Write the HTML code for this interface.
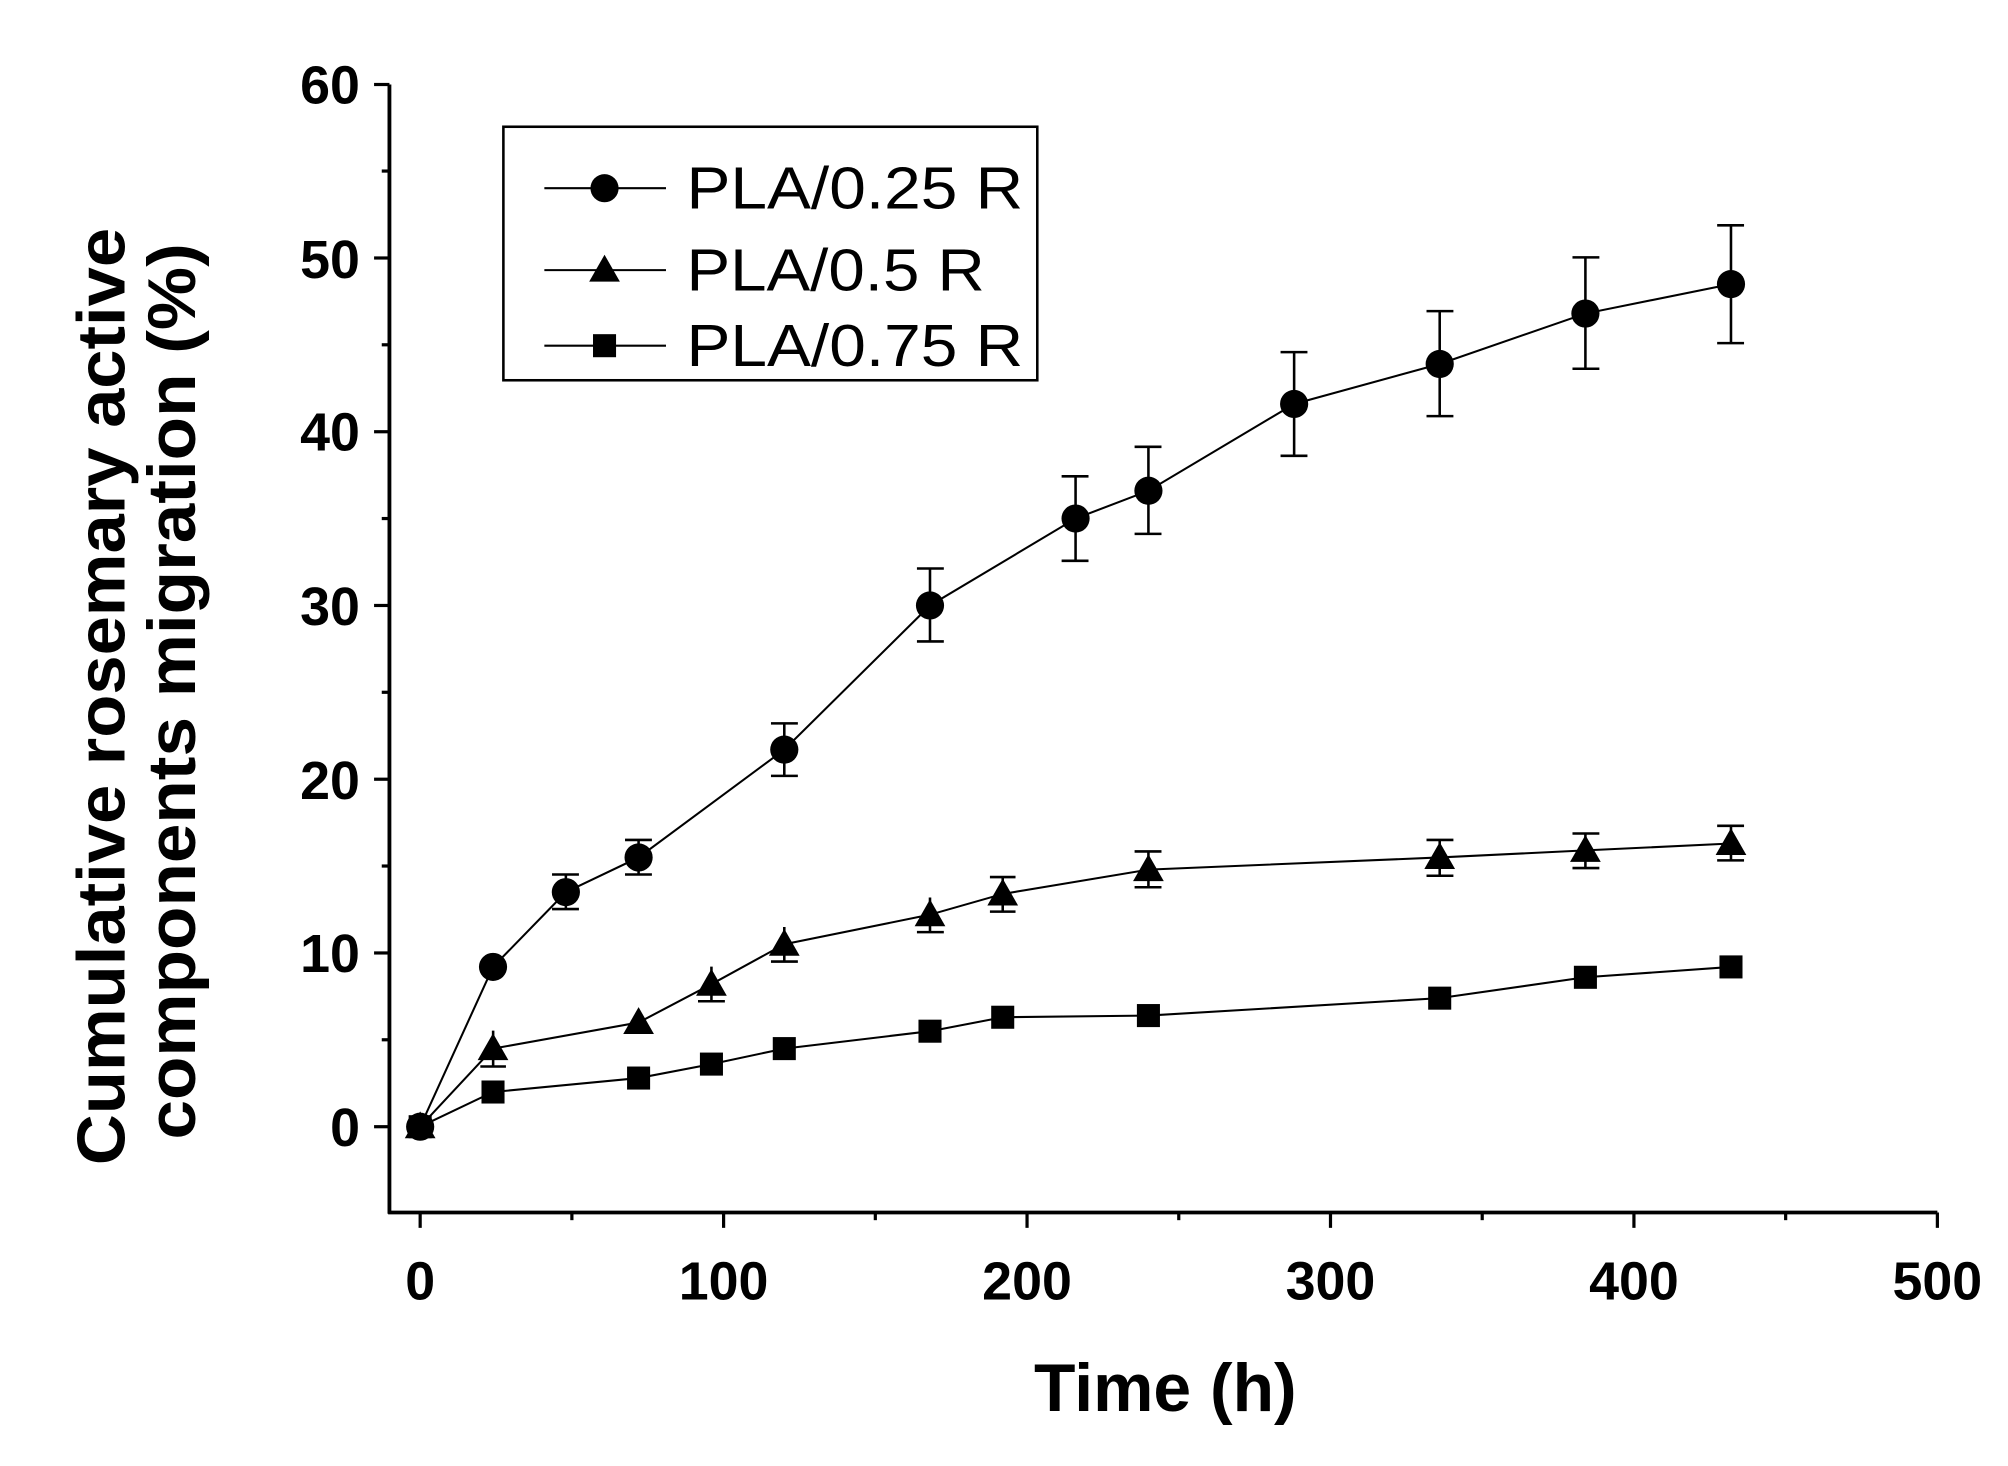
<!DOCTYPE html>
<html><head><meta charset="utf-8"><style>
html,body{margin:0;padding:0;background:#fff;}
svg{display:block;}
text{font-family:"Liberation Sans",Arial,sans-serif;fill:#000;}
</style></head><body>
<svg width="2008" height="1466" viewBox="0 0 1568 1145" xmlns="http://www.w3.org/2000/svg">
<defs>
<path id="tri" d="M0,-12 L12,9 L-12,9 Z"/>
</defs>
<g stroke="#000" stroke-width="3" fill="none">
<line x1="304" y1="66" x2="304" y2="948"/>
<line x1="303" y1="947" x2="1513" y2="947"/>
</g>
<g stroke="#000" stroke-width="2.5">
<line x1="292" y1="880" x2="304" y2="880"/><line x1="292" y1="744.3" x2="304" y2="744.3"/><line x1="292" y1="608.6" x2="304" y2="608.6"/><line x1="292" y1="472.9" x2="304" y2="472.9"/><line x1="292" y1="337.2" x2="304" y2="337.2"/><line x1="292" y1="201.5" x2="304" y2="201.5"/><line x1="292" y1="66" x2="304" y2="66"/>
<line x1="298" y1="812.1" x2="304" y2="812.1"/><line x1="298" y1="676.4" x2="304" y2="676.4"/><line x1="298" y1="540.7" x2="304" y2="540.7"/><line x1="298" y1="405" x2="304" y2="405"/><line x1="298" y1="269.3" x2="304" y2="269.3"/><line x1="298" y1="133.6" x2="304" y2="133.6"/>
<line x1="328" y1="947" x2="328" y2="959"/><line x1="565" y1="947" x2="565" y2="959"/><line x1="802" y1="947" x2="802" y2="959"/><line x1="1039" y1="947" x2="1039" y2="959"/><line x1="1276" y1="947" x2="1276" y2="959"/><line x1="1513" y1="947" x2="1513" y2="959"/>
<line x1="446.5" y1="947" x2="446.5" y2="953"/><line x1="683.5" y1="947" x2="683.5" y2="953"/><line x1="920.5" y1="947" x2="920.5" y2="953"/><line x1="1157.5" y1="947" x2="1157.5" y2="953"/><line x1="1394.5" y1="947" x2="1394.5" y2="953"/>
</g>
<g font-size="42" font-weight="bold" text-anchor="end">
<text x="281" y="895">0</text><text x="281" y="759">10</text><text x="281" y="624">20</text><text x="281" y="488">30</text><text x="281" y="352">40</text><text x="281" y="217">50</text><text x="281" y="81">60</text>
</g>
<g font-size="42" font-weight="bold" text-anchor="middle">
<text x="328" y="1015">0</text><text x="565" y="1015">100</text><text x="802" y="1015">200</text><text x="1039" y="1015">300</text><text x="1276" y="1015">400</text><text x="1513" y="1015">500</text>
</g>
<text x="910" y="1102" font-size="53" font-weight="bold" text-anchor="middle">Time (h)</text>
<g font-size="53" font-weight="bold" text-anchor="middle">
<text transform="translate(97,544) rotate(-90)" textLength="732" lengthAdjust="spacingAndGlyphs">Cumulative rosemary active</text>
<text transform="translate(152,540) rotate(-90)" textLength="700" lengthAdjust="spacingAndGlyphs">components migration (%)</text>
</g>
<!-- error bars -->
<g stroke="#000" stroke-width="2">
<path d="M384.9,748 V762 M441.8,683 V710 M498.6,656 V683 M612.4,565 V606 M726.2,444 V501 M839.9,372 V438 M896.8,349 V417 M1010.6,275 V356 M1124.3,243 V325 M1238.1,201 V288 M1351.8,176 V268"/>
<path d="M1000,275 H1021 M1000,356 H1021 M1114,243 H1135 M1114,325 H1135 M1228,201 H1249 M1228,288 H1249 M1341,176 H1362 M1341,268 H1362 M829,372 H850 M829,438 H850 M886,349 H907 M886,417 H907 M716,444 H737 M716,501 H737 M602,565 H623 M602,606 H623 M488,656 H509 M488,683 H509 M431,683 H452 M431,710 H452"/>
<path d="M385,805 V833 M555.5,755 V782 M612.4,724 V751 M726.2,701 V728 M783,685 V712 M896.8,665 V693 M1124.3,656 V684 M1238.1,651 V678 M1351.8,645 V672"/>
<path d="M375,833 H395 M545,782 H566 M602,751 H623 M716,728 H737 M773,685 H793 M773,712 H793 M886,665 H907 M886,693 H907 M1114,656 H1135 M1114,684 H1135 M1228,651 H1249 M1228,678 H1249 M1341,645 H1362 M1341,672 H1362"/>
</g>
<g stroke="#000" stroke-width="1.6" fill="none">
<polyline points="328,880 384.9,755.2 441.8,696.8 498.6,669.7 612.4,585.5 726.2,472.9 839.9,405 896.8,383.3 1010.6,315.5 1124.3,284.3 1238.1,244.9 1351.8,221.9"/>
<polyline points="328,880 384.9,819 498.6,798.6 555.5,768.7 612.4,737.5 726.2,714.4 783,698.2 896.8,679.2 1124.3,669.7 1238.1,664.2 1351.8,658.8"/>
<polyline points="328,880 384.9,852.9 498.6,842 555.5,831.1 612.4,819 726.2,805.4 783,794.5 896.8,793.2 1124.3,779.6 1238.1,763.3 1351.8,755.2"/>
</g>
<g fill="#000">
<rect x="319" y="871" width="18" height="18"/><rect x="375.9" y="843.9" width="18" height="18"/><rect x="489.6" y="833" width="18" height="18"/><rect x="546.5" y="822.1" width="18" height="18"/><rect x="603.4" y="810" width="18" height="18"/><rect x="717.2" y="796.4" width="18" height="18"/><rect x="774" y="785.5" width="18" height="18"/><rect x="887.8" y="784.2" width="18" height="18"/><rect x="1115.3" y="770.6" width="18" height="18"/><rect x="1229.1" y="754.3" width="18" height="18"/><rect x="1342.8" y="746.2" width="18" height="18"/>
<use href="#tri" x="328" y="880"/><use href="#tri" x="384.9" y="819"/><use href="#tri" x="498.6" y="798.6"/><use href="#tri" x="555.5" y="768.7"/><use href="#tri" x="612.4" y="737.5"/><use href="#tri" x="726.2" y="714.4"/><use href="#tri" x="783" y="698.2"/><use href="#tri" x="896.8" y="679.2"/><use href="#tri" x="1124.3" y="669.7"/><use href="#tri" x="1238.1" y="664.2"/><use href="#tri" x="1351.8" y="658.8"/>
<circle cx="328" cy="880" r="11"/><circle cx="384.9" cy="755.2" r="11"/><circle cx="441.8" cy="696.8" r="11"/><circle cx="498.6" cy="669.7" r="11"/><circle cx="612.4" cy="585.5" r="11"/><circle cx="726.2" cy="472.9" r="11"/><circle cx="839.9" cy="405" r="11"/><circle cx="896.8" cy="383.3" r="11"/><circle cx="1010.6" cy="315.5" r="11"/><circle cx="1124.3" cy="284.3" r="11"/><circle cx="1238.1" cy="244.9" r="11"/><circle cx="1351.8" cy="221.9" r="11"/>
</g>
<!-- legend -->
<rect x="393" y="99" width="417" height="198" fill="none" stroke="#000" stroke-width="2"/>
<g stroke="#000" stroke-width="1.6">
<line x1="425" y1="147" x2="520" y2="147"/><line x1="425" y1="211" x2="520" y2="211"/><line x1="425" y1="270" x2="520" y2="270"/>
</g>
<g fill="#000">
<circle cx="472" cy="147" r="11"/><use href="#tri" x="472" y="211"/><rect x="463" y="261" width="18" height="18"/>
</g>
<g font-size="46">
<text x="536" y="163" textLength="263" lengthAdjust="spacingAndGlyphs">PLA/0.25 R</text><text x="536" y="227" textLength="233" lengthAdjust="spacingAndGlyphs">PLA/0.5 R</text><text x="536" y="286" textLength="263" lengthAdjust="spacingAndGlyphs">PLA/0.75 R</text>
</g>
</svg>
</body></html>
